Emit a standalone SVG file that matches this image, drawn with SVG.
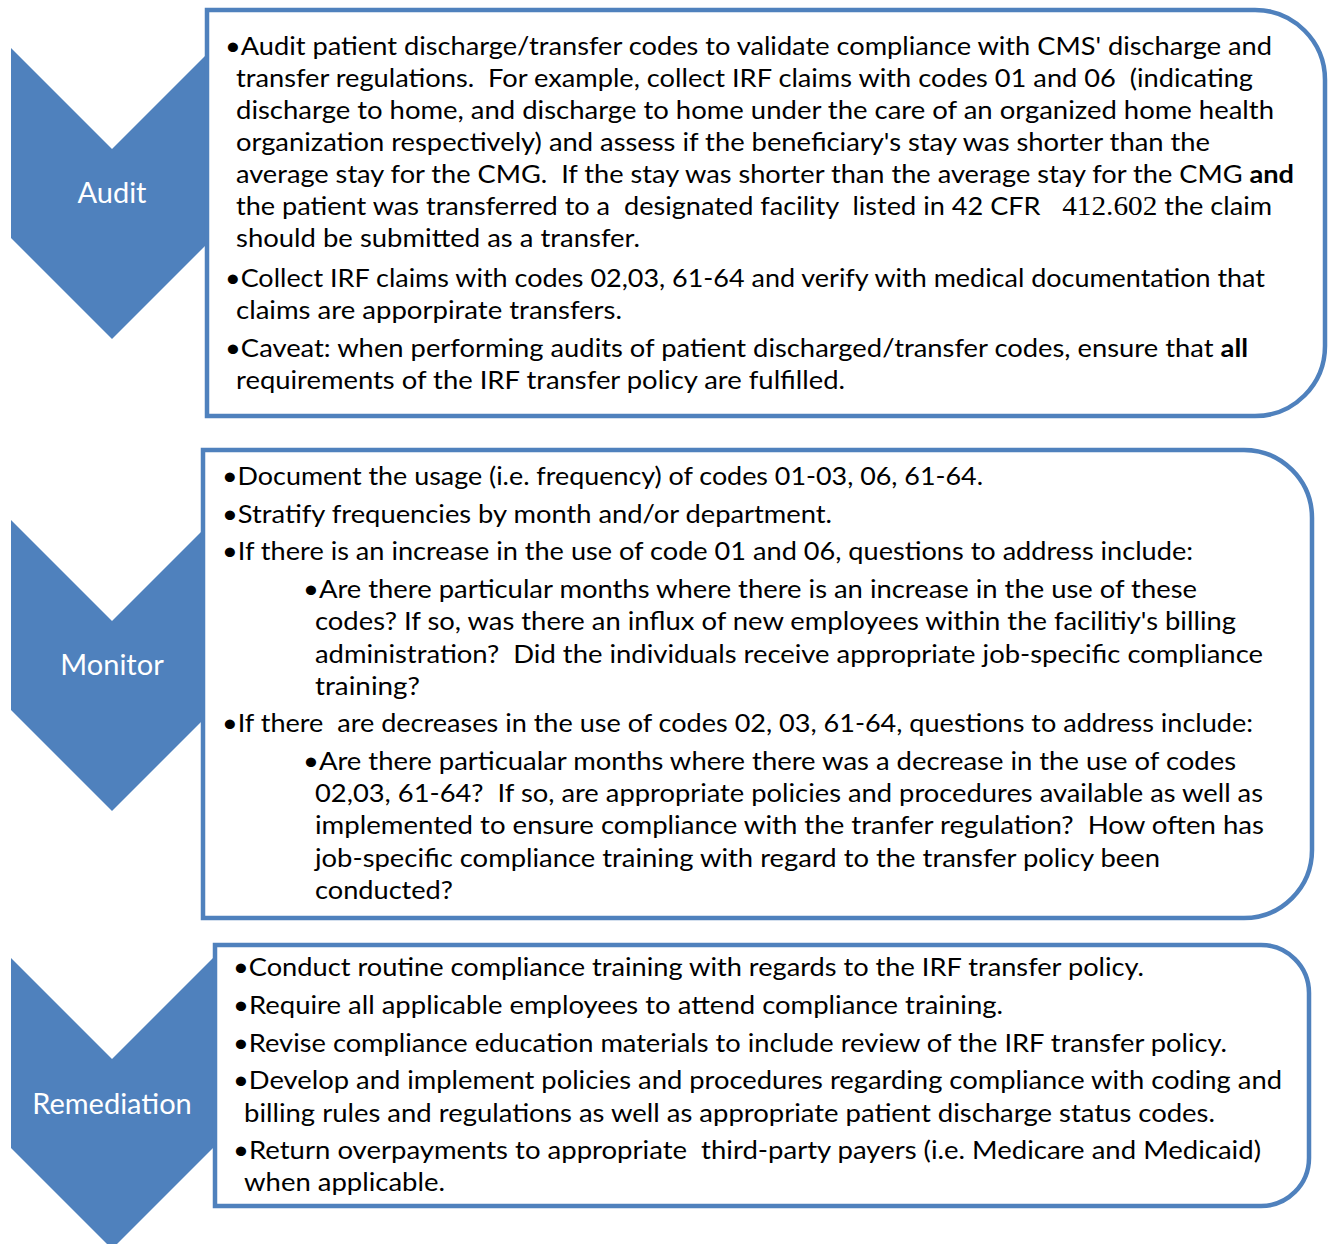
<svg xmlns="http://www.w3.org/2000/svg" width="1331" height="1244" viewBox="0 0 1331 1244">
<style>
.chev{fill:#4F81BD}
.box{fill:#fff;stroke:#4F81BD;stroke-width:4.5}
.lbl{font-family:Lato,"Open Sans","Liberation Sans",sans-serif;font-size:29px;fill:#fff;text-anchor:middle}
.t{font-family:Lato,"Open Sans","Liberation Sans",sans-serif;font-size:25px;fill:#000;white-space:pre}
.b{font-weight:bold}
.s{font-family:"Liberation Serif","Times New Roman",serif;font-size:27px}
</style>
<rect width="1331" height="1244" fill="#fff"/>
<g id="audit">
<polygon class="chev" points="11,48 112,149 213,48 213,238 112,339 11,238"/>
<text class="lbl" x="112" y="203">Audit</text>
<path class="box" d="M207,10 H1255 A70,70 0 0 1 1325,80 V346 A70,70 0 0 1 1255,416 H207 Z"/>
<text class="t" x="225" y="55" textLength="1047" lengthAdjust="spacingAndGlyphs">•Audit patient discharge/transfer codes to validate compliance with CMS' discharge and</text>
<text class="t" x="236" y="87" textLength="1017" lengthAdjust="spacingAndGlyphs">transfer regulations.  For example, collect IRF claims with codes 01 and 06  (indicating</text>
<text class="t" x="236" y="119" textLength="1038" lengthAdjust="spacingAndGlyphs">discharge to home, and discharge to home under the care of an organized home health</text>
<text class="t" x="236" y="151" textLength="974" lengthAdjust="spacingAndGlyphs">organization respectively) and assess if the beneficiary's stay was shorter than the</text>
<text class="t" x="236" y="183" textLength="1058" lengthAdjust="spacingAndGlyphs">average stay for the CMG.  If the stay was shorter than the average stay for the CMG <tspan class="b">and</tspan></text>
<text class="t" x="236" y="215" textLength="1036" lengthAdjust="spacingAndGlyphs">the patient was transferred to a  designated facility  listed in 42 CFR <tspan class="s">  412.602</tspan> the claim</text>
<text class="t" x="236" y="247" textLength="404" lengthAdjust="spacingAndGlyphs">should be submitted as a transfer.</text>
<text class="t" x="225" y="287" textLength="1040" lengthAdjust="spacingAndGlyphs">•Collect IRF claims with codes 02,03, 61-64 and verify with medical documentation that</text>
<text class="t" x="236" y="319" textLength="386" lengthAdjust="spacingAndGlyphs">claims are apporpirate transfers.</text>
<text class="t" x="225" y="357" textLength="1023" lengthAdjust="spacingAndGlyphs">•Caveat: when performing audits of patient discharged/transfer codes, ensure that <tspan class="b">all</tspan></text>
<text class="t" x="236" y="389" textLength="609" lengthAdjust="spacingAndGlyphs">requirements of the IRF transfer policy are fulfilled.</text>
</g>
<g id="monitor">
<polygon class="chev" points="11,520 112,621 213,520 213,710 112,811 11,710"/>
<text class="lbl" x="112" y="675">Monitor</text>
<path class="box" d="M203,450 H1244 A68,68 0 0 1 1312,518 V850 A68,68 0 0 1 1244,918 H203 Z"/>
<text class="t" x="222" y="485" textLength="761" lengthAdjust="spacingAndGlyphs">•Document the usage (i.e. frequency) of codes 01-03, 06, 61-64.</text>
<text class="t" x="222" y="523" textLength="610" lengthAdjust="spacingAndGlyphs">•Stratify frequencies by month and/or department.</text>
<text class="t" x="222" y="560" textLength="971" lengthAdjust="spacingAndGlyphs">•If there is an increase in the use of code 01 and 06, questions to address include:</text>
<text class="t" x="303" y="598" textLength="894" lengthAdjust="spacingAndGlyphs">•Are there particular months where there is an increase in the use of these</text>
<text class="t" x="315" y="630" textLength="921" lengthAdjust="spacingAndGlyphs">codes? If so, was there an influx of new employees within the facilitiy's billing</text>
<text class="t" x="315" y="663" textLength="948" lengthAdjust="spacingAndGlyphs">administration?  Did the individuals receive appropriate job-specific compliance</text>
<text class="t" x="315" y="695" textLength="105" lengthAdjust="spacingAndGlyphs">training?</text>
<text class="t" x="222" y="732" textLength="1031" lengthAdjust="spacingAndGlyphs">•If there  are decreases in the use of codes 02, 03, 61-64, questions to address include:</text>
<text class="t" x="303" y="770" textLength="933" lengthAdjust="spacingAndGlyphs">•Are there particualar months where there was a decrease in the use of codes</text>
<text class="t" x="315" y="802" textLength="948" lengthAdjust="spacingAndGlyphs">02,03, 61-64?  If so, are appropriate policies and procedures available as well as</text>
<text class="t" x="315" y="834" textLength="949" lengthAdjust="spacingAndGlyphs">implemented to ensure compliance with the tranfer regulation?  How often has</text>
<text class="t" x="315" y="867" textLength="845" lengthAdjust="spacingAndGlyphs">job-specific compliance training with regard to the transfer policy been</text>
<text class="t" x="315" y="899" textLength="138" lengthAdjust="spacingAndGlyphs">conducted?</text>
</g>
<g id="remediation">
<polygon class="chev" points="11,958 112,1059 213,958 213,1148 112,1249 11,1148"/>
<text class="lbl" x="112" y="1114">Remediation</text>
<path class="box" d="M215,945 H1261 A48,48 0 0 1 1309,993 V1158 A48,48 0 0 1 1261,1206 H215 Z"/>
<text class="t" x="233" y="976" textLength="911" lengthAdjust="spacingAndGlyphs">•Conduct routine compliance training with regards to the IRF transfer policy.</text>
<text class="t" x="233" y="1014" textLength="770" lengthAdjust="spacingAndGlyphs">•Require all applicable employees to attend compliance training.</text>
<text class="t" x="233" y="1052" textLength="994" lengthAdjust="spacingAndGlyphs">•Revise compliance education materials to include review of the IRF transfer policy.</text>
<text class="t" x="233" y="1089" textLength="1049" lengthAdjust="spacingAndGlyphs">•Develop and implement policies and procedures regarding compliance with coding and</text>
<text class="t" x="244" y="1122" textLength="971" lengthAdjust="spacingAndGlyphs">billing rules and regulations as well as appropriate patient discharge status codes.</text>
<text class="t" x="233" y="1159" textLength="1028" lengthAdjust="spacingAndGlyphs">•Return overpayments to appropriate  third-party payers (i.e. Medicare and Medicaid)</text>
<text class="t" x="244" y="1191" textLength="201" lengthAdjust="spacingAndGlyphs">when applicable.</text>
</g>
<g id="connectors"></g>
</svg>
